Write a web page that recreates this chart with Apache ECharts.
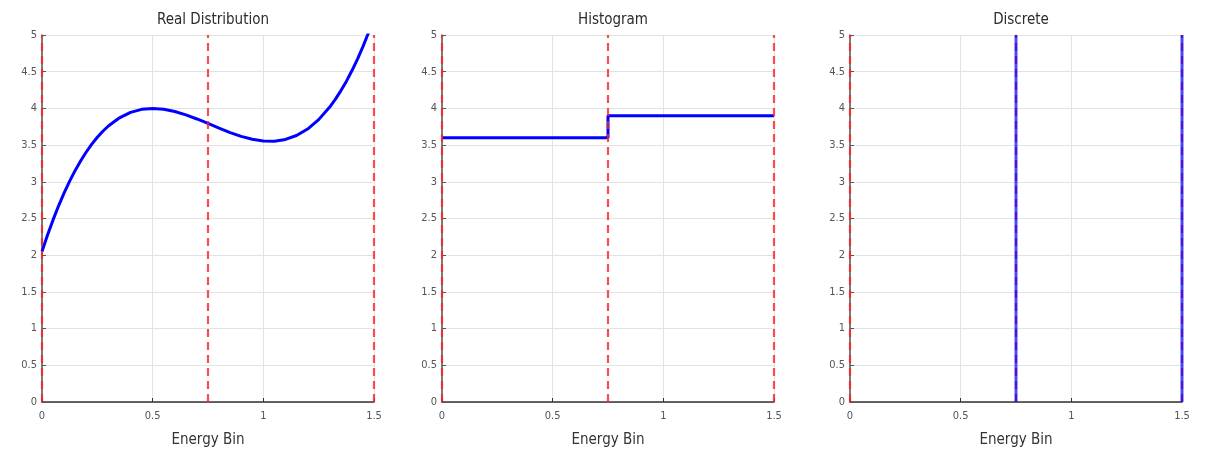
<!DOCTYPE html>
<html>
<head>
<meta charset="utf-8">
<script src="https://cdn.jsdelivr.net/npm/echarts@6/dist/echarts.min.js"></script>
<style>html,body{margin:0;padding:0;background:#fff}#c{width:1216px;height:457px}</style>
</head>
<body>
<div id="c"></div>
<script>
const panelTitles = ['Real Distribution', 'Histogram', 'Discrete'];
const xAxisName = 'Energy Bin';
const binEdges = [0, 0.75, 1.5];
const curveX = [0,0.025,0.05,0.075,0.1,0.125,0.15,0.175,0.2,0.225,0.25,0.275,0.3,0.35,0.4,0.45,0.5,0.55,0.6,0.65,0.7,0.75,0.8,0.85,0.9,0.95,1.0,1.05,1.1,1.15,1.2,1.25,1.3,1.325,1.35,1.375,1.4,1.425,1.45,1.475,1.5];
const curveY = [2.05,2.274,2.481,2.673,2.848,3.009,3.155,3.287,3.406,3.513,3.607,3.689,3.760,3.872,3.946,3.987,4.0,3.989,3.958,3.912,3.856,3.795,3.731,3.671,3.619,3.579,3.556,3.553,3.577,3.631,3.719,3.847,4.019,4.123,4.239,4.368,4.512,4.669,4.842,5.030,5.235];
const histValues = [3.6, 3.9];
const discreteX = [0.75, 1.5];
const discreteY = [5, 5];
const yTicks = {min: 0, max: 5, interval: 0.5};
const xTicks = {min: 0, max: 1.5, interval: 0.5};

const FONT = '"Liberation Sans Narrow", "DejaVu Sans Condensed", "Liberation Sans", Arial, sans-serif';
const lefts = [42, 442, 850];
const W = 332;

const grids = lefts.map(l => ({left: l, width: W, top: 35, height: 367}));
const titles = panelTitles.map((t, i) => ({
  text: t, left: lefts[i] + W / 2, top: 8, textAlign: 'center',
  textStyle: {fontFamily: FONT, fontSize: 15, fontWeight: 'normal', color: '#2b2b2b'}
}));
const xAxes = lefts.map((l, i) => ({
  type: 'value', gridIndex: i, min: xTicks.min, max: xTicks.max, interval: xTicks.interval,
  name: xAxisName, nameLocation: 'middle', nameGap: 31,
  nameTextStyle: {fontFamily: FONT, fontSize: 15, color: '#333'},
  axisLine: {show: true, onZero: false, lineStyle: {color: '#333', width: 1.5}},
  axisTick: {show: true, inside: true, length: 4, lineStyle: {color: '#333'}},
  axisLabel: {fontFamily: FONT, fontSize: 11, color: '#555', margin: 9},
  splitLine: {show: true, lineStyle: {color: '#e3e3e3', width: 1}}
}));
const yAxes = lefts.map((l, i) => ({
  type: 'value', gridIndex: i, min: yTicks.min, max: yTicks.max, interval: yTicks.interval,
  axisLine: {show: true, lineStyle: {color: '#555', width: 1.5}},
  axisTick: {show: true, inside: true, length: 4, lineStyle: {color: '#555'}},
  axisLabel: {fontFamily: FONT, fontSize: 11, color: '#555', margin: 5},
  splitLine: {show: true, lineStyle: {color: '#e3e3e3', width: 1}}
}));

const series = [];
function edgeSeries(i, z, opacity) {
  binEdges.forEach(e => {
    series.push({
      type: 'line', xAxisIndex: i, yAxisIndex: i, symbol: 'none', silent: true, z: z,
      data: [[e, yTicks.min], [e, yTicks.max]],
      lineStyle: {color: '#ff2020', width: 2.2, type: [8, 5], opacity: opacity}
    });
  });
}
// Panel 1: real distribution curve
series.push({
  type: 'line', xAxisIndex: 0, yAxisIndex: 0, symbol: 'none', smooth: false, clip: true, z: 3,
  data: curveX.map((x, k) => [x, curveY[k]]),
  lineStyle: {color: '#0000ff', width: 3, join: 'round'}
});
edgeSeries(0, 4, 0.8);
// Panel 2: histogram steps
const histData = [];
histValues.forEach((v, k) => { histData.push([binEdges[k], v]); histData.push([binEdges[k + 1], v]); });
series.push({
  type: 'line', xAxisIndex: 1, yAxisIndex: 1, symbol: 'none', z: 3,
  data: histData, lineStyle: {color: '#0000ff', width: 3}
});
edgeSeries(1, 4, 0.8);
// Panel 3: discrete lines
edgeSeries(2, 3, 0.8);
discreteX.forEach((x, k) => {
  series.push({
    type: 'line', xAxisIndex: 2, yAxisIndex: 2, symbol: 'none', z: 4,
    data: [[x, 0], [x, discreteY[k]]],
    lineStyle: {color: '#0000ff', width: 3, opacity: 0.7}
  });
});

const chart = echarts.init(document.getElementById('c'), null, {renderer: 'canvas'});
chart.setOption({
  animation: false,
  title: titles,
  grid: grids,
  xAxis: xAxes,
  yAxis: yAxes,
  series: series
});
</script>
</body>
</html>
